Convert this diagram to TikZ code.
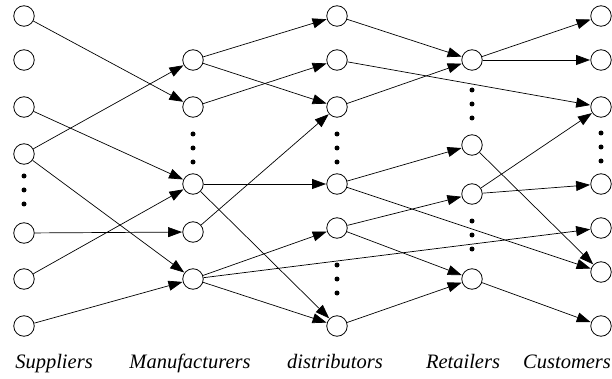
\documentclass[tikz,border=0pt]{standalone}
\usepackage{fontspec}
\setmainfont{Liberation Serif}[ItalicFont={Liberation Serif Italic}]
\usetikzlibrary{arrows.meta}

\begin{document}
\begin{tikzpicture}[x=1pt,y=-1pt]
\tikzset{Site/.style={
  draw,
  circle,
  line width=0.8pt,
  inner sep=0pt,
  minimum size=20.5pt,
}}
\tikzset{Flow/.style={
  draw,
  line width=0.7pt,
  -{Triangle[length=14pt,width=10pt]},
  shorten >=0.3pt,
}}
\tikzset{Tier/.style={
  anchor=base,
  font=\fontsize{20.5}{24}\selectfont\itshape,
}}

\useasboundingbox (0,0) rectangle (612,379);

% suppliers
\foreach \n/\y in {1/16, 2/60, 3/107, 4/154, 5/233, 6/279, 7/326}
  \node[Site] (S\n) at (24,\y) {};
% manufacturers
\foreach \n/\y in {1/60, 2/107, 3/184, 4/232, 5/279}
  \node[Site] (M\n) at (193,\y) {};
% distributors
\foreach \n/\y in {1/16, 2/60, 3/107, 4/184, 5/228, 6/326}
  \node[Site] (D\n) at (337,\y) {};
% retailers
\foreach \n/\y in {1/60, 2/145, 3/194, 4/279}
  \node[Site] (R\n) at (472,\y) {};
% customers
\foreach \n/\y in {1/16, 2/60, 3/107, 4/184, 5/228, 6/272, 7/326}
  \node[Site] (C\n) at (601,\y) {};

% vertical dots
\foreach \x/\y in {24/176, 193/134, 337/134, 337/265, 472/90, 472/221, 601/133}
  \foreach \k in {0,1,2}
    \fill (\x,\y+14*\k) circle (2.5);

% links
\foreach \a/\b in {S1/M2, S3/M3, S4/M1, S4/M5, S5/M4, S6/M3, S7/M5,
                   M1/D1, M1/D3, M2/D2, M3/D4, M3/D6, M4/D3, M5/D5, M5/D6, M5/C5,
                   D1/R1, D2/C3, D3/R1, D4/R2, D4/C6, D5/R3, D5/R4, D6/R4,
                   R1/C1, R1/C2, R2/C6, R3/C3, R3/C4, R4/C7}
  \draw[Flow] (\a) -- (\b);

% tier names
\node[Tier] (suppliers) at (54,368) {Suppliers};
\node[Tier] (manufacturers) at (190,368) {Manufacturers};
\node[Tier] (distributors) at (335,368) {distributors};
\node[Tier] (retailers) at (463,368) {Retailers};
\node[Tier] (customers) at (567,368) {Customers};
\end{tikzpicture}
\end{document}
